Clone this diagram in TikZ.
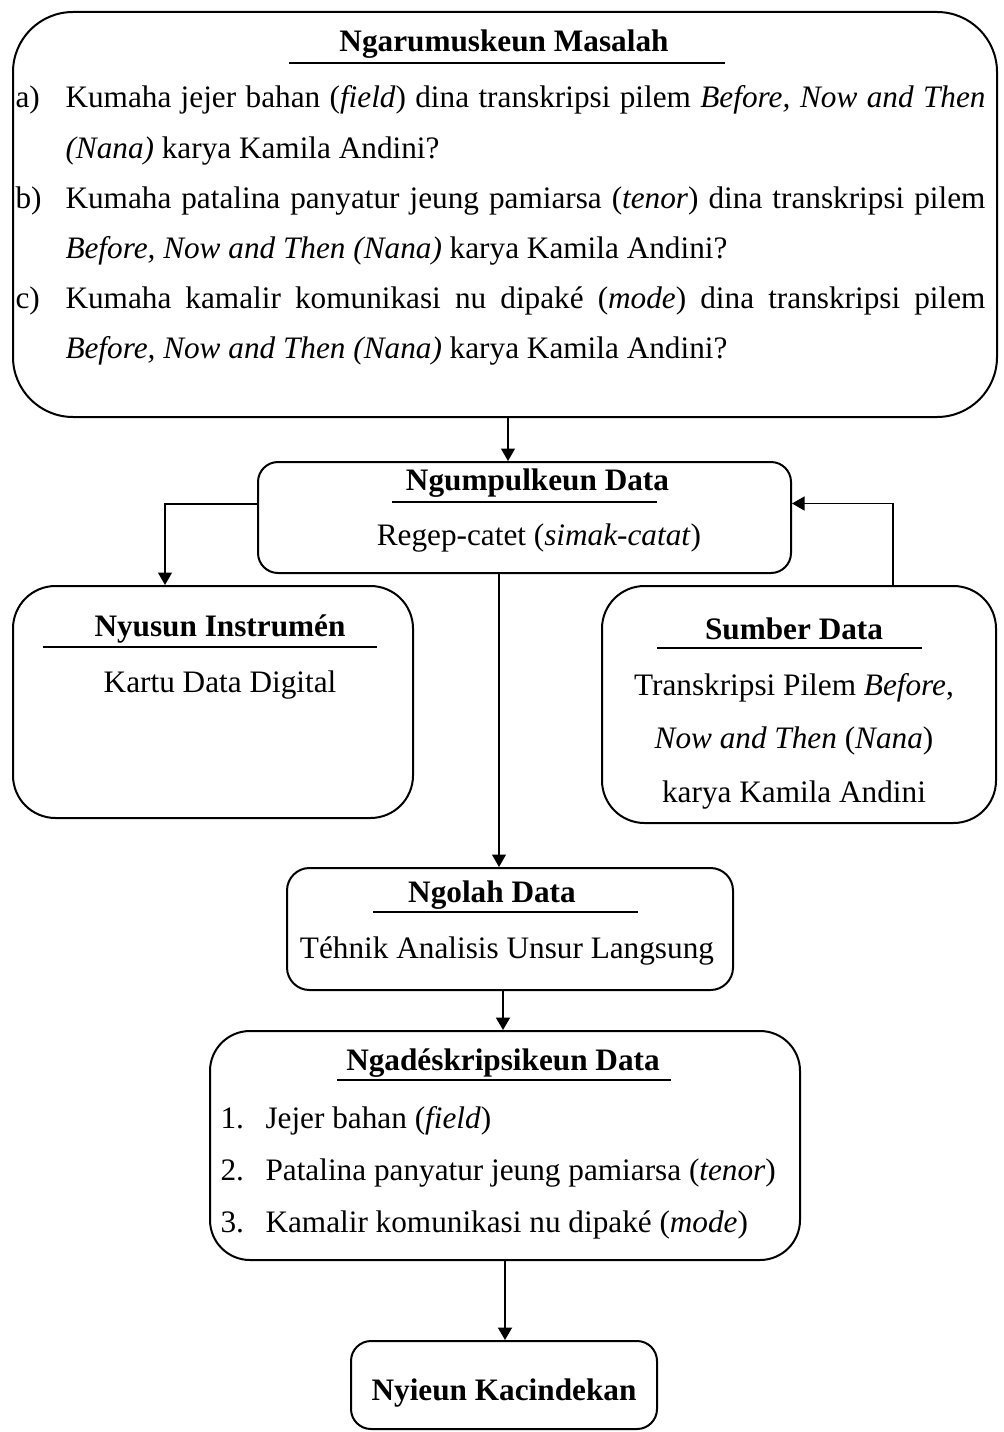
\documentclass[tikz,border=0pt]{standalone}
\usepackage{fontspec}
\setmainfont{Liberation Serif}
\usetikzlibrary{arrows.meta}

\tikzset{
  box/.style={draw, line width=0.8pt, inner sep=0pt},
  wh/.style 2 args={minimum width=#1*0.4pt, minimum height=#2*0.4pt},
  txt/.style={inner sep=0pt, anchor=base, font=\fontsize{12.5}{15}\selectfont},
  ttl/.style={txt, font=\fontsize{12.5}{15}\selectfont\bfseries},
  uline/.style={line width=1pt},
  arr/.style={-{Triangle[length=5pt,width=5.6pt]}, line width=0.5pt},
  arrb/.style={arr, line width=0.75pt},
}

\begin{document}
\begin{tikzpicture}[x=0.4pt, y=-0.4pt]
  \useasboundingbox (0,0) rectangle (1003,1432);

  % Boxes
  \node[box, wh={984}{405}, rounded corners=24pt] (masalah) at (505,214.5) {};
  \node[box, wh={533}{111}, rounded corners=8pt] (kumpul) at (524.5,517.5) {};
  \node[box, wh={400}{232}, rounded corners=17pt] (nyusun) at (213,702) {};
  \node[box, wh={394}{237}, rounded corners=17pt] (sumber) at (799,704.5) {};
  \node[box, wh={446}{122}, rounded corners=9pt] (olah) at (510,929) {};
  \node[box, wh={590}{229}, rounded corners=16pt] (deskripsi) at (505,1145.5) {};
  \node[box, wh={306}{88}, rounded corners=8pt] (cindek) at (504,1385) {};

  % Ngarumuskeun Masalah
  \node[ttl] (masalahT) at (504,52) {Ngarumuskeun Masalah};
  \draw[uline] (289,63) -- (725,63);
  \node[txt, anchor=base west] (labA) at (15,108) {a)};
  \node[txt, anchor=base west] (lineA1) at (65,108) {\makebox[368pt][s]{Kumaha jejer bahan (\textit{field}) dina transkripsi pilem \textit{Before, Now and Then}}};
  \node[txt, anchor=base west] (lineA2) at (65,158) {\textit{(Nana)} karya Kamila Andini?};
  \node[txt, anchor=base west] (labB) at (15,208) {b)};
  \node[txt, anchor=base west] (lineB1) at (65,208) {\makebox[368pt][s]{Kumaha patalina panyatur jeung pamiarsa (\textit{tenor}) dina transkripsi pilem}};
  \node[txt, anchor=base west] (lineB2) at (65,258) {\textit{Before, Now and Then (Nana)} karya Kamila Andini?};
  \node[txt, anchor=base west] (labC) at (15,308) {c)};
  \node[txt, anchor=base west] (lineC1) at (65,308) {\makebox[368pt][s]{Kumaha kamalir komunikasi nu dipaké (\textit{mode}) dina transkripsi pilem}};
  \node[txt, anchor=base west] (lineC2) at (65,358) {\textit{Before, Now and Then (Nana)} karya Kamila Andini?};

  % Ngumpulkeun Data
  \node[ttl] (kumpulT) at (537.5,490) {Ngumpulkeun Data};
  \draw[uline] (392,502) -- (657,502);
  \node[txt] (kumpulB) at (539,545) {Regep-catet (\textit{simak-catat})};

  % Nyusun Instrumen
  \node[ttl] (nyusunT) at (220,636) {Nyusun Instrumén};
  \draw[uline] (43,647) -- (377,647);
  \node[txt] (nyusunB) at (220,692) {Kartu Data Digital};

  % Sumber Data
  \node[ttl] (sumberT) at (794,639) {Sumber Data};
  \draw[uline] (657,648) -- (922,648);
  \node[txt] (sumberB1) at (794,695) {Transkripsi Pilem \textit{Before},};
  \node[txt] (sumberB2) at (794,748) {\textit{Now and Then} (\textit{Nana})};
  \node[txt] (sumberB3) at (794,802) {karya Kamila Andini};

  % Ngolah Data
  \node[ttl] (olahT) at (492,902) {Ngolah Data};
  \draw[uline] (373,912) -- (638,912);
  \node[txt] (olahB) at (507,958) {Téhnik Analisis Unsur Langsung};

  % Ngadeskripsikeun Data
  \node[ttl] (deskripsiT) at (503,1070) {Ngadéskripsikeun Data};
  \draw[uline] (337,1080) -- (671,1080);
  \node[txt, anchor=base west] (num1) at (220,1128) {1.};
  \node[txt, anchor=base west] (item1) at (265,1128) {Jejer bahan (\textit{field})};
  \node[txt, anchor=base west] (num2) at (220,1180) {2.};
  \node[txt, anchor=base west] (item2) at (265,1180) {Patalina panyatur jeung pamiarsa (\textit{tenor})};
  \node[txt, anchor=base west] (num3) at (220,1232) {3.};
  \node[txt, anchor=base west] (item3) at (265,1232) {Kamalir komunikasi nu dipaké (\textit{mode})};

  % Nyieun Kacindekan
  \node[ttl] (cindekT) at (504,1400) {Nyieun Kacindekan};

  % Connectors
  \coordinate (mS) at ([xshift=1.2pt]masalah.south);
  \draw[arr] (mS) -- (mS |- kumpul.north);
  \coordinate (kW) at ([yshift=5.4pt]kumpul.west);
  \coordinate (nN) at ([xshift=-19.2pt]nyusun.north);
  \draw[arr] (kW) -| (nN);
  \coordinate (sN) at ([xshift=37.6pt]sumber.north);
  \coordinate (kE) at ([yshift=5.6pt]kumpul.east);
  \draw[arr] (sN) |- (kE);
  \coordinate (kS) at ([xshift=-10.2pt]kumpul.south);
  \draw[arr] (kS) -- (kS |- olah.north);
  \coordinate (oS) at ([xshift=-2.8pt]olah.south);
  \draw[arrb] (oS) -- (oS |- deskripsi.north);
  \draw[arrb] (deskripsi.south) -- (deskripsi.south |- cindek.north);
\end{tikzpicture}
\end{document}
